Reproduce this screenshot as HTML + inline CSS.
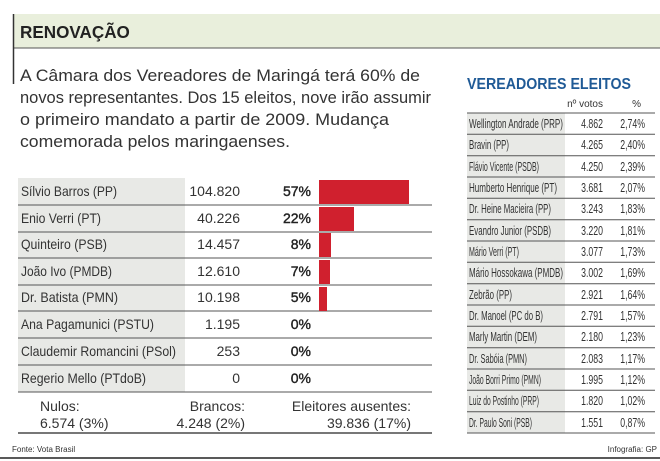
<!DOCTYPE html>
<html><head><meta charset="utf-8"><style>body{margin:0;background:#fff}svg{display:block}</style></head><body>
<svg width="660" height="461" xmlns="http://www.w3.org/2000/svg" font-family="Liberation Sans, sans-serif">
<rect x="13" y="14" width="647" height="34" fill="#e9efdc"/>
<line x1="13" y1="48" x2="660" y2="48" stroke="#555" stroke-width="1"/>
<line x1="13.5" y1="14" x2="13.5" y2="84" stroke="#333" stroke-width="1.5"/>
<text x="20" y="38" font-size="18" font-weight="bold" fill="#222" transform="translate(20,0) scale(0.95,1) translate(-20,0)">RENOVAÇÃO</text>
<g font-size="17" fill="#333">
<text x="20" y="81" textLength="400" lengthAdjust="spacingAndGlyphs">A Câmara dos Vereadores de Maringá terá 60% de</text>
<text x="20" y="103" textLength="411" lengthAdjust="spacingAndGlyphs">novos representantes. Dos 15 eleitos, nove irão assumir</text>
<text x="20" y="125" textLength="369" lengthAdjust="spacingAndGlyphs">o primeiro mandato a partir de 2009. Mudança</text>
<text x="20" y="147" textLength="270" lengthAdjust="spacingAndGlyphs">comemorada pelos maringaenses.</text>
</g>
<rect x="18" y="178" width="167" height="214" fill="#e8e9e6"/>
<g stroke="#555" stroke-width="1">
<line x1="18" y1="205" x2="432" y2="205"/><line x1="18" y1="232" x2="432" y2="232"/>
<line x1="18" y1="258" x2="432" y2="258"/><line x1="18" y1="285" x2="432" y2="285"/>
<line x1="18" y1="311" x2="432" y2="311"/><line x1="18" y1="338" x2="432" y2="338"/>
<line x1="18" y1="365" x2="432" y2="365"/><line x1="18" y1="392" x2="432" y2="392"/>
</g>
<line x1="18" y1="433" x2="432" y2="433" stroke="#777" stroke-width="2"/>
<g fill="#d0202e">
<rect x="319" y="180" width="90" height="24"/><rect x="319" y="207" width="35" height="24"/>
<rect x="319" y="233" width="12" height="24"/><rect x="319" y="260" width="11" height="24"/>
<rect x="319" y="287" width="8" height="24"/>
</g>
<g font-size="14" fill="#333">
<text x="21" y="196" textLength="96" lengthAdjust="spacingAndGlyphs">Sílvio Barros (PP)</text>
<text x="21" y="223" textLength="80" lengthAdjust="spacingAndGlyphs">Enio Verri (PT)</text>
<text x="21" y="249" textLength="86" lengthAdjust="spacingAndGlyphs">Quinteiro (PSB)</text>
<text x="21" y="276" textLength="91" lengthAdjust="spacingAndGlyphs">João Ivo (PMDB)</text>
<text x="21" y="302" textLength="97" lengthAdjust="spacingAndGlyphs">Dr. Batista (PMN)</text>
<text x="21" y="329" textLength="133" lengthAdjust="spacingAndGlyphs">Ana Pagamunici (PSTU)</text>
<text x="21" y="356" textLength="155" lengthAdjust="spacingAndGlyphs">Claudemir Romancini (PSol)</text>
<text x="21" y="383" textLength="125" lengthAdjust="spacingAndGlyphs">Regerio Mello (PTdoB)</text>
</g>
<g font-size="14" fill="#333" text-anchor="end">
<text x="240" y="196">104.820</text><text x="240" y="223">40.226</text><text x="240" y="249">14.457</text>
<text x="240" y="276">12.610</text><text x="240" y="302">10.198</text><text x="240" y="329">1.195</text>
<text x="240" y="356">253</text><text x="240" y="383">0</text>
</g>
<g font-size="14" fill="#222" text-anchor="end" stroke="#222" stroke-width="0.4">
<text x="311" y="196">57%</text><text x="311" y="223">22%</text><text x="311" y="249">8%</text>
<text x="311" y="276">7%</text><text x="311" y="302">5%</text><text x="311" y="329">0%</text>
<text x="311" y="356">0%</text><text x="311" y="383">0%</text>
</g>
<g font-size="14" fill="#333">
<text x="40" y="411">Nulos:</text><text x="40" y="428">6.574 (3%)</text>
<text x="245" y="411" text-anchor="end">Brancos:</text><text x="245" y="428" text-anchor="end">4.248 (2%)</text>
<text x="411" y="411" text-anchor="end">Eleitores ausentes:</text><text x="411" y="428" text-anchor="end">39.836 (17%)</text>
</g>
<text x="12" y="452" font-size="8" fill="#333">Fonte: Vota Brasil</text>
<text x="657" y="452" font-size="8" fill="#333" text-anchor="end">Infografia: GP</text>
<line x1="0" y1="458" x2="660" y2="458" stroke="#222" stroke-width="1.5"/>
<text x="467" y="89" font-size="16" font-weight="bold" fill="#1f5a96" textLength="164" lengthAdjust="spacingAndGlyphs">VEREADORES ELEITOS</text>
<text x="603" y="107" font-size="10" fill="#333" text-anchor="end">nº votos</text>
<text x="641" y="107" font-size="10" fill="#333" text-anchor="end">%</text>
<rect x="467" y="113" width="98" height="320" fill="#e8e9e6"/>
<g stroke="#555" stroke-width="1">
<line x1="467" y1="113" x2="655" y2="113"/><line x1="467" y1="134.3" x2="655" y2="134.3"/>
<line x1="467" y1="155.7" x2="655" y2="155.7"/><line x1="467" y1="177" x2="655" y2="177"/>
<line x1="467" y1="198.3" x2="655" y2="198.3"/><line x1="467" y1="219.7" x2="655" y2="219.7"/>
<line x1="467" y1="241" x2="655" y2="241"/><line x1="467" y1="262.3" x2="655" y2="262.3"/>
<line x1="467" y1="283.7" x2="655" y2="283.7"/><line x1="467" y1="305" x2="655" y2="305"/>
<line x1="467" y1="326.3" x2="655" y2="326.3"/><line x1="467" y1="347.7" x2="655" y2="347.7"/>
<line x1="467" y1="369" x2="655" y2="369"/><line x1="467" y1="390.3" x2="655" y2="390.3"/>
<line x1="467" y1="411.7" x2="655" y2="411.7"/><line x1="467" y1="433" x2="655" y2="433"/>
</g>
<g font-size="12.5" fill="#333">
<text x="469" y="128" textLength="94" lengthAdjust="spacingAndGlyphs">Wellington Andrade (PRP)</text>
<text x="469" y="149" textLength="40" lengthAdjust="spacingAndGlyphs">Bravin (PP)</text>
<text x="469" y="171" textLength="70" lengthAdjust="spacingAndGlyphs">Flávio Vicente (PSDB)</text>
<text x="469" y="192" textLength="88" lengthAdjust="spacingAndGlyphs">Humberto Henrique (PT)</text>
<text x="469" y="213" textLength="82" lengthAdjust="spacingAndGlyphs">Dr. Heine Macieira (PP)</text>
<text x="469" y="235" textLength="82" lengthAdjust="spacingAndGlyphs">Evandro Junior (PSDB)</text>
<text x="469" y="256" textLength="50" lengthAdjust="spacingAndGlyphs">Mário Verri (PT)</text>
<text x="469" y="277" textLength="94" lengthAdjust="spacingAndGlyphs">Mário Hossokawa (PMDB)</text>
<text x="469" y="299" textLength="43" lengthAdjust="spacingAndGlyphs">Zebrão (PP)</text>
<text x="469" y="320" textLength="74" lengthAdjust="spacingAndGlyphs">Dr. Manoel (PC do B)</text>
<text x="469" y="341" textLength="68" lengthAdjust="spacingAndGlyphs">Marly Martin (DEM)</text>
<text x="469" y="363" textLength="58" lengthAdjust="spacingAndGlyphs">Dr. Sabóia (PMN)</text>
<text x="469" y="384" textLength="72" lengthAdjust="spacingAndGlyphs">João Borri Primo (PMN)</text>
<text x="469" y="405" textLength="70" lengthAdjust="spacingAndGlyphs">Luiz do Postinho (PRP)</text>
<text x="469" y="427" textLength="63" lengthAdjust="spacingAndGlyphs">Dr. Paulo Soni (PSB)</text>
</g>
<g font-size="12.5" fill="#333" text-anchor="end" transform="translate(603,0) scale(0.7,1) translate(-603,0)">
<text x="603" y="128">4.862</text><text x="603" y="149">4.265</text><text x="603" y="171">4.250</text>
<text x="603" y="192">3.681</text><text x="603" y="213">3.243</text><text x="603" y="235">3.220</text>
<text x="603" y="256">3.077</text><text x="603" y="277">3.002</text><text x="603" y="299">2.921</text>
<text x="603" y="320">2.791</text><text x="603" y="341">2.180</text><text x="603" y="363">2.083</text>
<text x="603" y="384">1.995</text><text x="603" y="405">1.820</text><text x="603" y="427">1.551</text>
</g>
<g font-size="12.5" fill="#333" text-anchor="end" transform="translate(645,0) scale(0.7,1) translate(-645,0)">
<text x="645" y="128">2,74%</text><text x="645" y="149">2,40%</text><text x="645" y="171">2,39%</text>
<text x="645" y="192">2,07%</text><text x="645" y="213">1,83%</text><text x="645" y="235">1,81%</text>
<text x="645" y="256">1,73%</text><text x="645" y="277">1,69%</text><text x="645" y="299">1,64%</text>
<text x="645" y="320">1,57%</text><text x="645" y="341">1,23%</text><text x="645" y="363">1,17%</text>
<text x="645" y="384">1,12%</text><text x="645" y="405">1,02%</text><text x="645" y="427">0,87%</text>
</g>
</svg>
</body></html>
